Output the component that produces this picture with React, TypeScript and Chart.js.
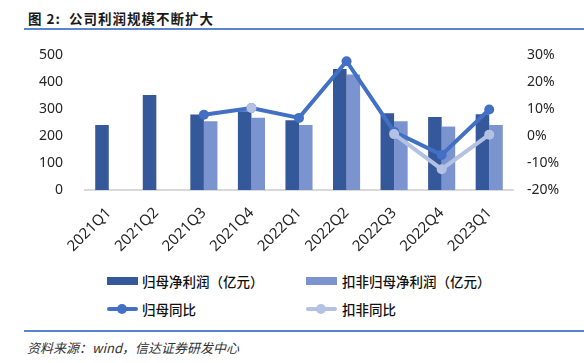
import React, { useEffect, useRef } from "react";
import { Chart, registerables } from "chart.js";

Chart.register(...registerables);

const categories = ["2021Q1", "2021Q2", "2021Q3", "2021Q4", "2022Q1", "2022Q2", "2022Q3", "2022Q4", "2023Q1"];
const netProfit = [241, 352, 280, 292, 258, 448, 284, 270, 281];
const deductedProfit = [null, null, 255, 268, 241, 428, 255, 235, 241];
const netProfitYoY = [null, null, 7.9, 10.4, 6.7, 27.7, 1.6, -7.0, 9.8];
const deductedYoY = [null, null, null, 10.4, null, null, 0.7, -12.3, 0.5];
const leftTicks = [0, 100, 200, 300, 400, 500];
const rightTicks = [-20, -10, 0, 10, 20, 30];

const DARK_BAR = "#34589a";
const LIGHT_BAR = "#7b93cf";
const DARK_LINE = "#4170c4";
const LIGHT_LINE = "#b3c1e3";
const TICK_FONT = { family: "'Noto Sans', sans-serif", size: 14 };

export default function App() {
  const ref = useRef<HTMLCanvasElement | null>(null);

  useEffect(() => {
    if (!ref.current) return;
    const chart = new Chart(ref.current, {
      type: "bar",
      data: {
        labels: categories,
        datasets: [
          {
            type: "line",
            label: "扣非同比",
            data: deductedYoY,
            yAxisID: "y1",
            borderColor: LIGHT_LINE,
            backgroundColor: LIGHT_LINE,
            borderWidth: 4,
            pointRadius: 5,
            pointBorderWidth: 0,
            pointBackgroundColor: LIGHT_LINE,
            spanGaps: false,
            order: 0,
          },
          {
            type: "line",
            label: "归母同比",
            data: netProfitYoY,
            yAxisID: "y1",
            borderColor: DARK_LINE,
            backgroundColor: DARK_LINE,
            borderWidth: 4,
            pointRadius: 5,
            pointBorderWidth: 0,
            pointBackgroundColor: DARK_LINE,
            order: 1,
          },
          {
            type: "bar",
            label: "归母净利润（亿元）",
            data: netProfit,
            yAxisID: "y",
            backgroundColor: DARK_BAR,
            categoryPercentage: 0.57,
            barPercentage: 1,
            order: 2,
          },
          {
            type: "bar",
            label: "扣非归母净利润（亿元）",
            data: deductedProfit,
            yAxisID: "y",
            backgroundColor: LIGHT_BAR,
            categoryPercentage: 0.57,
            barPercentage: 1,
            order: 3,
          },
        ],
      } as any,
      options: {
        animation: false,
        responsive: false,
        maintainAspectRatio: false,
        layout: { padding: { top: 55, left: 0, right: 0, bottom: 0 } },
        plugins: { legend: { display: false }, tooltip: { enabled: false } },
        scales: {
          x: {
            grid: { display: false },
            border: { display: true, color: "#d9d9d9", width: 2 },
            ticks: {
              color: "#262626",
              font: { family: "'Noto Sans', sans-serif", size: 15 },
              minRotation: 45,
              maxRotation: 45,
              padding: 6,
            },
            afterFit: (s: any) => {
              s.height = 70;
            },
          },
          y: {
            position: "left",
            min: 0,
            max: 500,
            grid: { display: false, drawTicks: false },
            border: { display: false },
            afterBuildTicks: (s: any) => {
              s.ticks = leftTicks.map((v) => ({ value: v }));
            },
            ticks: { color: "#262626", font: TICK_FONT, padding: 22 },
            afterFit: (s: any) => {
              s.width = 85;
            },
          },
          y1: {
            position: "right",
            min: -20,
            max: 30,
            grid: { display: false, drawTicks: false },
            border: { display: false },
            afterBuildTicks: (s: any) => {
              s.ticks = rightTicks.map((v) => ({ value: v }));
            },
            ticks: {
              color: "#262626",
              font: TICK_FONT,
              padding: 14,
              callback: (v: any) => `${v}%`,
            },
            afterFit: (s: any) => {
              s.width = 71;
            },
          },
        },
      } as any,
    });
    return () => chart.destroy();
  }, []);

  const legendText: React.CSSProperties = {
    position: "absolute",
    fontFamily: "'Noto Sans CJK SC', sans-serif",
    fontSize: 13.5,
    fontWeight: 500,
    color: "#111",
    lineHeight: "18px",
    whiteSpace: "nowrap",
  };

  return (
    <div style={{ position: "fixed", left: 0, top: 0, width: 584, height: 363, background: "#fff", overflow: "hidden" }}>
      <div
        style={{
          position: "absolute",
          left: 28,
          top: 9,
          fontFamily: "'Noto Sans CJK SC', sans-serif",
          fontWeight: 700,
          fontSize: 13.5,
          letterSpacing: 1,
          color: "#1a1a1a",
          lineHeight: "18px",
          whiteSpace: "nowrap",
        }}
      >
        图 2:&nbsp; 公司利润规模不断扩大
      </div>
      <div style={{ position: "absolute", left: 24, top: 28, width: 560, height: 1.5, background: "#5b84cc" }} />
      <canvas ref={ref} width={584} height={260} style={{ position: "absolute", left: 0, top: 0, width: 584, height: 260 }} />

      <div style={{ position: "absolute", left: 107, top: 277, width: 31, height: 8, background: DARK_BAR }} />
      <div style={{ ...legendText, left: 142, top: 272 }}>归母净利润（亿元）</div>
      <div style={{ position: "absolute", left: 306, top: 277, width: 31, height: 8, background: LIGHT_BAR }} />
      <div style={{ ...legendText, left: 342, top: 272 }}>扣非归母净利润（亿元）</div>

      <div style={{ position: "absolute", left: 107, top: 307, width: 31, height: 4, borderRadius: 2, background: DARK_LINE }} />
      <div style={{ position: "absolute", left: 117, top: 304, width: 10, height: 10, borderRadius: 5, background: DARK_LINE }} />
      <div style={{ ...legendText, left: 142, top: 300 }}>归母同比</div>
      <div style={{ position: "absolute", left: 306, top: 307, width: 31, height: 4, borderRadius: 2, background: LIGHT_LINE }} />
      <div style={{ position: "absolute", left: 316, top: 304, width: 10, height: 10, borderRadius: 5, background: LIGHT_LINE }} />
      <div style={{ ...legendText, left: 342, top: 300 }}>扣非同比</div>

      <div style={{ position: "absolute", left: 24, top: 330, width: 560, height: 1.5, background: "#5b84cc" }} />
      <div
        style={{
          position: "absolute",
          left: 27,
          top: 339,
          fontFamily: "'Noto Sans CJK SC', sans-serif",
          fontStyle: "italic",
          fontSize: 13,
          color: "#333",
          lineHeight: "17px",
          whiteSpace: "nowrap",
        }}
      >
        资料来源：wind，信达证券研发中心
      </div>
    </div>
  );
}
